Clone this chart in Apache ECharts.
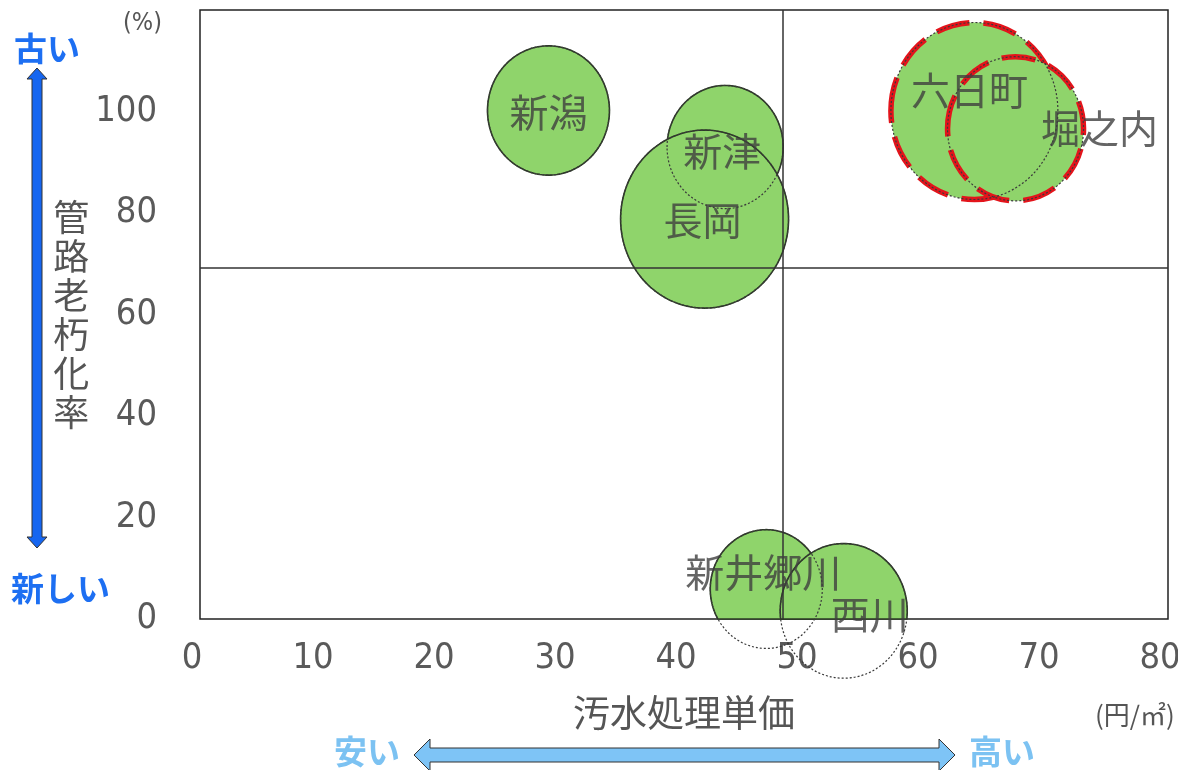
<!DOCTYPE html>
<html><head><meta charset="utf-8">
<script src="https://cdn.jsdelivr.net/npm/echarts@6/dist/echarts.min.js"></script>
<style>html,body{margin:0;padding:0;background:#fff}#c{width:1178px;height:770px}</style>
</head><body><div id="c"></div>
<script>
// ---- data ----
const regions    = ['新潟', '新津', '長岡', '六日町', '堀之内', '新井郷川', '西川'];
const unitCost   = [28.8, 43.4, 41.7, 64.0, 67.4, 46.8, 53.2];   // 汚水処理単価 (円/㎡)
const agingRate  = [100.2, 93.0, 78.8, 100.1, 96.6, 5.9, 1.6];   // 管路老朽化率 (%)
const scaleValue = [5.04, 4.80, 6.94, 6.90, 5.62, 4.63, 5.25];   // bubble scale (x-axis units)
const highlightedRegions = ['六日町', '堀之内'];
const xTickValues = [0, 10, 20, 30, 40, 50, 60, 70, 80];
const yTickValues = [0, 20, 40, 60, 80, 100];
const avgCost  = 48.2;
const avgAging = 69.2;

// ---- font detection (narrow digits) ----
function fontAvailable(fam) {
  const cv = document.createElement('canvas').getContext('2d');
  const s = '0123456789mmwwii';
  cv.font = '40px monospace'; const a = cv.measureText(s).width;
  cv.font = '40px "' + fam + '", monospace'; const b = cv.measureText(s).width;
  cv.font = '40px serif'; const c = cv.measureText(s).width;
  cv.font = '40px "' + fam + '", serif'; const d = cv.measureText(s).width;
  return a !== b || c !== d;
}
const narrowCandidates = ['Liberation Sans Narrow', 'DejaVu Sans Condensed', 'Arial Narrow', 'Roboto Condensed', 'Open Sans Condensed'];
let NUM_FAMILY = null;
for (const f of narrowCandidates) { if (fontAvailable(f)) { NUM_FAMILY = f; break; } }
const NUM_FONT = NUM_FAMILY ? '"' + NUM_FAMILY + '"' : '"Roboto",sans-serif';
const NUM_SIZE = NUM_FAMILY ? 36 : 31;
const NUM_WEIGHT = NUM_FAMILY ? 'normal' : 300;

// ---- styles ----
const CJK_FONT = '"Noto Sans CJK JP","Noto Sans CJK SC",sans-serif';
const labelOffset = {
  '新潟': [0, 2], '新津': [-3, 4], '長岡': [-2, 1], '六日町': [-5, -21],
  '堀之内': [84, -1], '新井郷川': [-3, -17], '西川': [26, 3]
};
const ELLIPSE_RATIO = 1.06;

const bubbleData = regions.map((r, i) => ({ name: r, value: [unitCost[i], agingRate[i], scaleValue[i]] }));

function ellipsePts(cx, cy, rx, ry, n) {
  const pts = [];
  for (let k = 0; k < n; k++) {
    const a = 2 * Math.PI * k / n;
    pts.push([cx + rx * Math.cos(a), cy + ry * Math.sin(a)]);
  }
  return pts;
}

function geom(params, api) {
  const c = api.coord([api.value(0), api.value(1)]);
  const rx = api.size([api.value(2), 0])[0];
  return { cx: c[0], cy: c[1], rx: rx, ry: rx * ELLIPSE_RATIO };
}

function renderFill(params, api) {
  const g = geom(params, api);
  const name = regions[params.dataIndex];
  const hl = highlightedRegions.indexOf(name) >= 0;
  const cs = params.coordSys;
  const pts = echarts.graphic.clipPointsByRect(ellipsePts(g.cx, g.cy, g.rx, g.ry, 180),
    { x: cs.x, y: cs.y, width: cs.width, height: cs.height });
  const children = [{
    type: 'polygon', shape: { points: pts },
    style: { fill: '#8fd46b', stroke: hl ? null : '#2c3a26', lineWidth: hl ? 0 : 1.6 }
  }];
  if (hl) {
    children.push({
      type: 'ellipse', shape: { cx: g.cx, cy: g.cy, rx: g.rx, ry: g.ry },
      style: { fill: null, stroke: '#e3141b', lineWidth: 5.5, lineDash: [34, 14] }
    });
  }
  return { type: 'group', children: children };
}

function renderDotted(params, api) {
  const g = geom(params, api);
  return {
    type: 'ellipse', shape: { cx: g.cx, cy: g.cy, rx: g.rx, ry: g.ry },
    style: { fill: null, stroke: '#3a3a3a', lineWidth: 1.2, lineDash: [2, 2] }
  };
}

const chart = echarts.init(document.getElementById('c'), null, { renderer: 'canvas' });
chart.setOption({
  backgroundColor: '#ffffff',
  animation: false,
  grid: { left: 200, right: 10, top: 10, bottom: 151, show: true, borderColor: '#222', borderWidth: 1.5,
    backgroundColor: '#fff', containLabel: false, outerBoundsMode: 'none' },
  xAxis: {
    type: 'value', min: xTickValues[0], max: xTickValues[xTickValues.length - 1], interval: 10,
    axisLine: { show: false }, axisTick: { show: false }, splitLine: { show: false },
    axisLabel: { fontSize: NUM_SIZE, fontWeight: NUM_WEIGHT, color: '#5a5a5a', fontFamily: NUM_FONT, margin: 22, padding: [0, 16, 0, 0] },
    name: '汚水処理単価', nameLocation: 'middle', nameGap: 94,
    nameTextStyle: { fontSize: 37, color: '#555', fontFamily: CJK_FONT, verticalAlign: 'middle' }
  },
  yAxis: {
    type: 'value', min: 0, max: 120, interval: 20,
    axisLine: { show: false }, axisTick: { show: false }, splitLine: { show: false },
    axisLabel: { fontSize: NUM_SIZE, fontWeight: NUM_WEIGHT, color: '#5a5a5a', fontFamily: NUM_FONT, margin: 43,
      padding: [8, 0, 0, 0],
      formatter: v => (yTickValues.indexOf(v) >= 0 ? String(v) : '') },
    name: '管路老朽化率'.split('').join('\n'), nameLocation: 'middle', nameGap: 125, nameRotate: 0,
    nameTextStyle: { fontSize: 36, lineHeight: 39, color: '#555', fontFamily: CJK_FONT, align: 'center', verticalAlign: 'middle' }
  },
  series: [
    { type: 'custom', name: 'fill', renderItem: renderFill, data: bubbleData, z: 2, silent: true },
    { type: 'custom', name: 'outline', renderItem: renderDotted, data: bubbleData, z: 3, silent: true, clip: false },
    {
      type: 'scatter', name: 'labels', z: 5, symbolSize: 1, itemStyle: { color: 'rgba(0,0,0,0)' }, silent: true,
      data: bubbleData.map(d => ({
        name: d.name, value: d.value,
        label: { show: true, position: 'inside', formatter: '{b}', offset: labelOffset[d.name],
          fontSize: 39, color: '#3e3e3e', fontFamily: CJK_FONT }
      })),
      markLine: {
        silent: true, symbol: ['none', 'none'], label: { show: false },
        lineStyle: { color: '#333', width: 1.5, type: 'solid' },
        data: [{ xAxis: avgCost }, { yAxis: avgAging }]
      }
    }
  ],
  graphic: [
    { type: 'text', left: 123, top: 11, style: { text: '(%)', fontSize: 25, fill: '#555', fontFamily: NUM_FONT, fontWeight: NUM_WEIGHT } },
    { type: 'text', left: 1095, top: 702, style: { text: '(円/㎡)', fontSize: 26, fill: '#555', fontFamily: CJK_FONT } },
    { type: 'text', left: 14, top: 32, style: { text: '古い', fontSize: 33, fontWeight: 'bold', fill: '#1d6ff2', fontFamily: CJK_FONT } },
    { type: 'text', left: 11, top: 572, style: { text: '新しい', fontSize: 33, fontWeight: 'bold', fill: '#1d6ff2', fontFamily: CJK_FONT } },
    { type: 'polygon', shape: { points: [[37,68],[27,79],[32,79],[32,537],[27,537],[37,548],[47,537],[42,537],[42,79],[47,79]] },
      style: { fill: '#1666f0', stroke: '#333', lineWidth: 1 } },
    { type: 'polygon', shape: { points: [[414,755],[430,739],[430,748],[939,748],[939,739],[955,755],[939,771],[939,762],[430,762],[430,771]] },
      style: { fill: '#7ec4f6', stroke: '#333', lineWidth: 1 } },
    { type: 'text', left: 334, top: 735, style: { text: '安い', fontSize: 33, fontWeight: 'bold', fill: '#7cc2f2', fontFamily: CJK_FONT } },
    { type: 'text', left: 969, top: 735, style: { text: '高い', fontSize: 33, fontWeight: 'bold', fill: '#7cc2f2', fontFamily: CJK_FONT } }
  ]
});
</script></body></html>
